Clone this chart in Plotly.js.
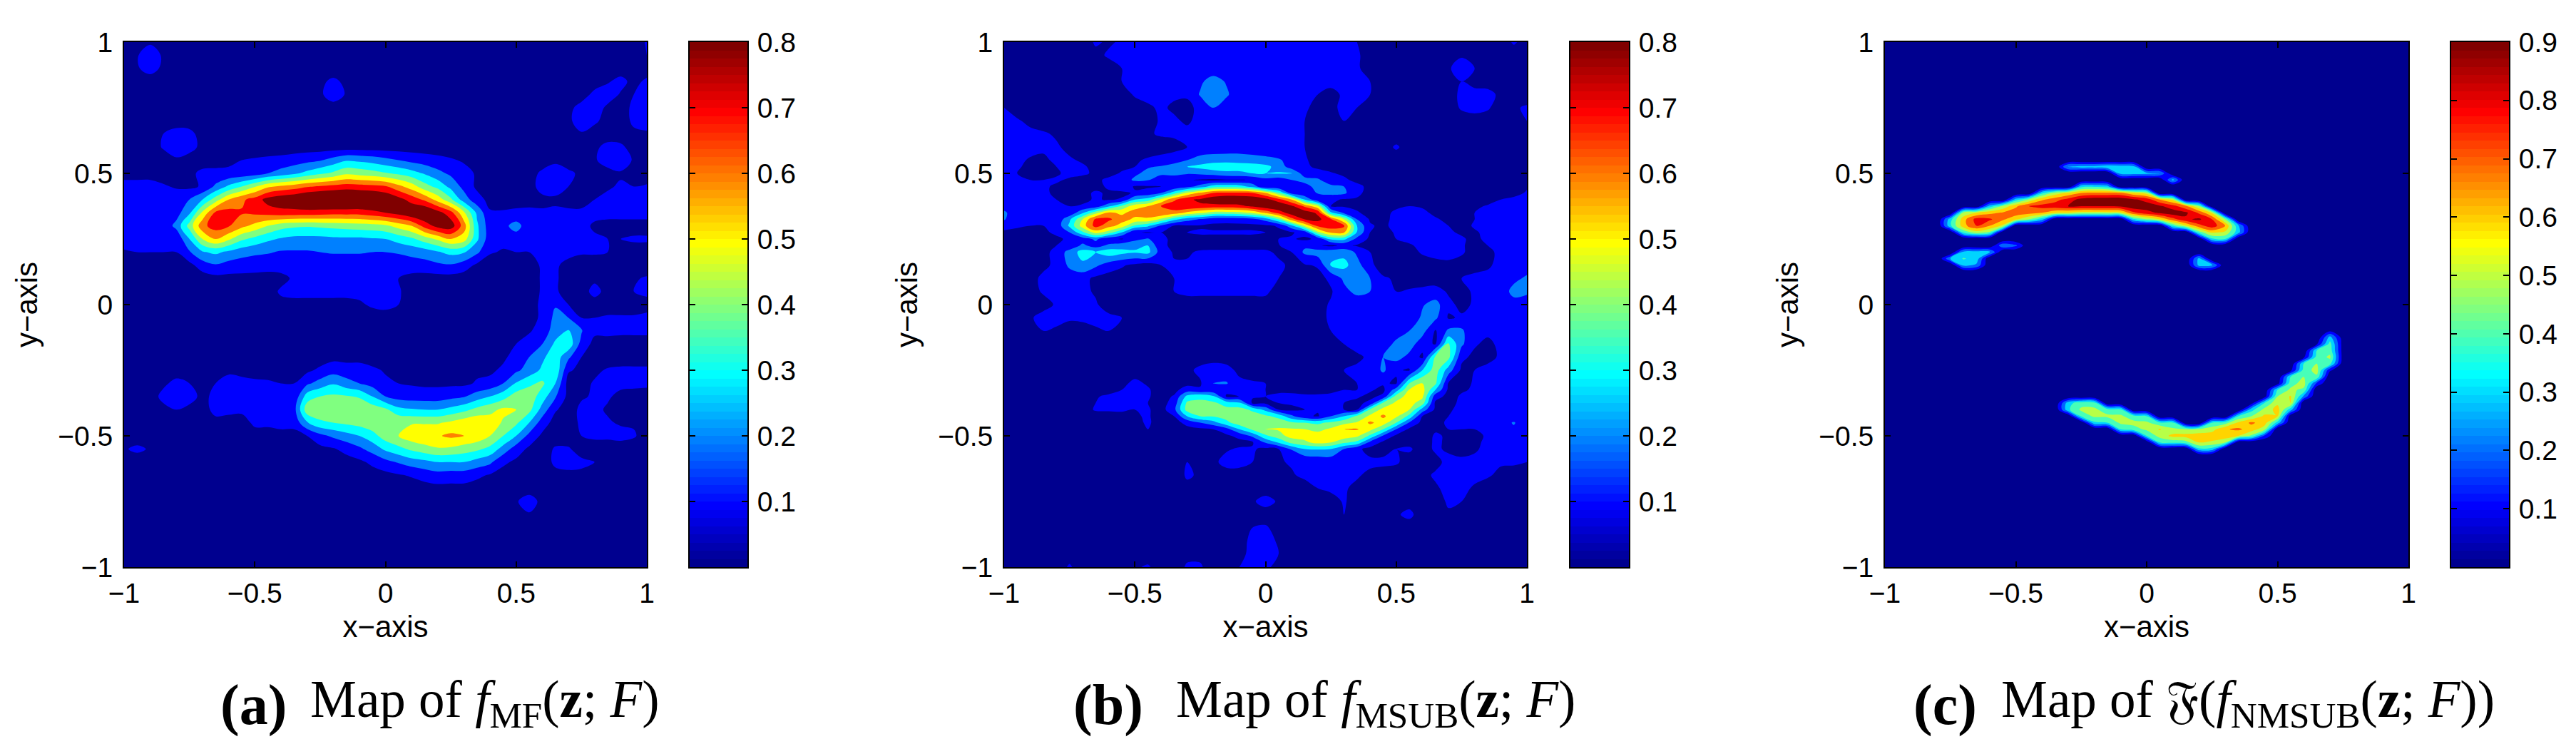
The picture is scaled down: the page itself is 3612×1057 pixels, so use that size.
<!DOCTYPE html>
<html>
<head>
<meta charset="utf-8">
<script src="https://cdn.plot.ly/plotly-3.0.1.min.js"></script>
<style>body{margin:0;background:#fff}</style>
</head>
<body>
<div id="chart"></div>
<script>
const xGrid = [-1,-.95,-.9,-.85,-.8,-.75,-.7,-.65,-.6,-.55,-.5,-.45,-.4,-.35,-.3,-.25,-.2,-.15,-.1,-.05,0,.05,.1,.15,.2,.25,.3,.35,.4,.45,.5,.55,.6,.65,.7,.75,.8,.85,.9,.95,1];
const yGridA = [1,.95,.9,.85,.8,.75,.7,.65,.6,.55,.5,.45,.4,.35,.3,.25,.2,.15,.1,.05,0,-.05,-.1,-.15,-.2,-.25,-.3,-.35,-.4,-.45,-.5,-.55,-.6,-.65,-.7,-.75,-.8,-.85,-.9,-.95,-1];
const yGridB = [1,.95,.9,.85,.8,.75,.7,.65,.6,.55,.525,.5,.475,.45,.425,.4,.375,.35,.325,.3,.275,.25,.225,.2,.15,.1,.05,0,-.05,-.1,-.15,-.2,-.25,-.3,-.325,-.35,-.375,-.4,-.425,-.45,-.475,-.5,-.525,-.55,-.6,-.65,-.7,-.75,-.8,-.85,-.9,-.95,-1];
const yGridC = [1,.575,.55,.525,.5,.475,.45,.425,.4,.375,.35,.325,.3,.275,.25,.225,.2,.175,.15,.125,-.1,-.125,-.15,-.175,-.2,-.225,-.25,-.275,-.3,-.325,-.35,-.375,-.4,-.425,-.45,-.475,-.5,-.525,-.55,-.575,-1];

// values in hundredths, top row first
const mapA = [
[5,5,8,5,5,5,5,5,5,5,5,5,5,5,5,5,5,5,5,5,5,5,5,5,5,5,5,5,5,5,5,5,5,5,5,5,5,5,5,5,11],
[5,9,18,8,5,5,5,5,5,5,5,5,5,5,5,5,5,5,5,5,5,5,5,5,5,5,5,5,5,5,5,5,5,5,5,5,5,5,5,5,10],
[5,9,14,8,5,5,5,5,5,5,5,5,5,5,5,5,5,5,5,5,5,5,5,5,5,5,5,5,5,5,5,5,5,5,5,5,5,5,5,5,5],
[5,5,5,5,5,5,5,5,5,5,5,5,5,5,5,8,12,8,5,5,5,5,5,5,5,5,5,5,5,5,5,5,5,5,5,5,5,9,13,7,12],
[5,5,5,5,5,5,5,5,5,5,5,5,5,5,5,8,16,9,5,5,5,5,5,5,5,5,5,5,5,5,5,5,5,5,5,5,13,15,9,10,14],
[5,5,5,5,5,5,5,5,5,5,5,5,5,5,5,5,5,5,5,5,5,5,5,5,5,5,5,5,5,5,5,5,5,5,7,14,15,8,6,12,14],
[5,5,5,5,5,5,5,5,5,5,5,5,5,5,5,5,5,5,5,5,5,5,5,5,5,5,5,5,5,5,5,5,5,5,8,15,12,6,5,12,13],
[5,5,5,10,14,13,6,5,5,5,5,5,5,5,5,5,5,5,5,5,5,5,5,5,5,5,5,5,5,5,5,5,5,5,5,9,5,5,5,8,9],
[5,5,5,11,17,14,7,5,5,5,5,5,5,5,5,5,5,5,5,5,5,5,5,5,5,5,5,5,5,5,5,5,5,5,5,5,8,13,12,6,5],
[5,5,5,5,8,5,8,7,8,10,11,12,13,15,17,19,24,29,28,26,23,20,17,15,13,11,9,6,5,5,5,5,5,8,5,5,9,14,15,9,5],
[9,8,7,6,6,9,11,12,12,13,15,20,24,28,33,38,42,48,46,44,41,38,34,29,23,18,13,9,6,5,5,6,12,15,12,8,6,7,9,6,5],
[11,12,13,11,9,8,11,22,32,40,49,58,62,65,69,71,73,75,74,73,71,63,55,44,37,27,17,8,6,5,6,7,13,15,10,6,9,9,11,10,11],
[12,14,14,13,15,20,30,45,60,68,74,84,88,90,94,96,97,97,96,94,90,84,76,68,56,42,25,14,7,6,6,7,8,8,6,8,10,12,13,13,14],
[13,14,15,14,16,28,52,72,74,71,72,74,76,76,76,75,74,74,74,77,80,84,90,92,84,74,52,28,11,11,12,12,11,12,12,11,12,13,13,13,13],
[15,14,14,13,23,44,67,75,71,63,57,50,44,42,41,42,43,44,45,46,48,54,60,74,84,86,65,32,14,17,24,14,13,13,12,12,9,7,7,7,7],
[14,14,13,12,12,30,50,60,52,42,37,32,29,27,27,27,28,28,28,29,30,34,38,45,52,60,55,32,14,13,15,13,12,12,12,12,11,10,10,11,11],
[9,10,10,10,10,19,29,32,28,24,22,21,19,19,19,20,21,21,21,20,20,21,23,25,29,33,31,22,11,9,10,10,11,12,12,11,11,10,8,7,7],
[6,6,6,6,6,7,15,19,16,15,14,13,13,12,12,13,13,13,13,13,14,14,15,16,18,19,15,8,5,5,5,7,11,11,8,6,6,6,6,6,5],
[5,5,5,5,5,5,5,7,7,7,7,7,8,11,12,12,13,13,13,12,12,10,7,6,6,6,5,5,5,5,5,6,11,11,7,6,8,5,6,9,11],
[5,5,5,5,5,5,5,5,5,5,5,7,11,12,12,12,12,12,12,12,11,11,6,5,5,5,5,5,5,5,5,6,11,11,7,6,13,7,6,10,12],
[5,5,5,5,5,5,5,5,5,5,5,5,8,8,8,8,8,8,9,11,12,10,5,5,5,5,5,5,5,5,5,6,12,19,10,6,6,6,6,6,7],
[5,5,5,5,5,5,5,5,5,5,5,5,5,5,5,5,5,5,5,7,7,6,5,5,5,5,5,5,5,5,5,8,11,23,20,10,10,11,11,11,12],
[5,5,5,5,5,5,5,5,5,5,5,5,5,5,5,5,5,5,5,5,5,5,5,5,5,5,5,5,5,5,7,9,14,25,31,21,12,12,12,12,12],
[5,5,5,5,5,5,5,5,5,5,5,5,5,5,5,5,5,5,5,5,5,5,5,5,5,5,5,5,5,7,10,14,20,32,37,16,7,7,6,6,6],
[5,5,5,5,5,5,5,5,5,5,5,5,5,5,5,5,7,7,7,5,5,5,5,5,5,5,5,5,6,8,14,20,28,36,22,10,5,5,5,5,5],
[5,5,5,5,5,5,5,7,9,8,8,7,6,6,8,12,16,14,14,12,9,6,5,5,5,5,5,8,8,12,18,24,32,38,11,8,8,11,12,12,12],
[5,5,5,8,13,10,7,10,12,12,11,11,10,10,18,24,29,24,20,16,12,10,9,8,8,8,8,11,13,20,31,38,42,30,6,7,11,12,12,12,11],
[5,5,5,13,15,13,8,12,13,13,12,12,11,12,35,40,42,41,39,30,20,16,15,15,15,17,19,25,30,36,45,46,35,21,7,9,11,11,8,7,8],
[5,5,5,7,10,8,6,13,12,11,12,12,13,16,46,47,46,47,47,46,42,33,31,30,30,33,37,43,47,52,50,43,26,11,6,12,12,9,6,6,5],
[5,5,5,5,5,5,5,7,7,8,11,11,12,13,29,38,40,42,44,47,49,49,49,49,49,52,56,58,55,49,42,30,15,6,5,12,13,11,9,9,6],
[5,5,5,5,5,5,5,5,5,5,8,8,8,7,10,17,22,26,30,36,45,50,56,58,59,62,60,57,50,40,30,17,8,6,5,10,12,12,13,11,6],
[9,12,9,5,5,5,5,5,5,5,5,5,5,5,5,7,9,13,18,24,32,37,42,46,49,48,45,42,37,26,15,8,6,11,11,6,5,5,5,5,5],
[5,5,5,5,5,5,5,5,5,5,5,5,5,5,5,5,5,6,8,12,17,21,25,27,30,30,30,26,22,12,8,5,5,12,13,12,10,6,5,5,5],
[5,5,5,5,5,5,5,5,5,5,5,5,5,5,5,5,5,5,5,6,7,9,11,14,16,15,15,12,9,6,5,5,5,7,8,8,5,5,5,5,5],
[5,5,5,5,5,5,5,5,5,5,5,5,5,5,5,5,5,5,5,5,5,5,5,6,7,7,7,6,5,5,5,5,5,5,5,5,5,5,5,5,5],
[5,5,5,5,5,5,5,5,5,5,5,5,5,5,5,5,5,5,5,5,5,5,5,5,5,5,5,5,5,5,9,15,7,5,5,5,5,5,5,5,5],
[5,5,5,5,5,5,5,5,5,5,5,5,5,5,5,5,5,5,5,5,5,5,5,5,5,5,5,5,5,5,5,9,5,5,5,5,5,5,5,5,5],
[5,5,5,5,5,5,5,5,5,5,5,5,5,5,5,5,5,5,5,5,5,5,5,5,5,5,5,5,5,5,5,5,5,5,5,5,5,5,5,5,5],
[5,5,5,5,5,5,5,5,5,5,5,5,5,5,5,5,5,5,5,5,5,5,5,5,5,5,5,5,5,5,5,5,5,5,5,5,5,5,5,5,5],
[5,5,5,5,5,5,5,5,5,5,5,5,5,5,5,5,5,5,5,5,5,5,5,5,5,5,5,5,5,5,5,5,5,5,5,5,5,5,5,5,5],
[5,5,5,5,5,5,5,5,5,5,5,5,5,5,5,5,5,5,5,5,5,5,5,5,5,5,5,5,5,5,5,5,5,5,5,5,5,5,5,5,5]
];

const mapB = [
[6,6,6,6,6,6,6,11,9,11,12,12,12,12,12,12,12,12,12,12,12,12,12,12,12,12,11,10,8,6,6,6,6,6,6,6,6,6,6,11,7],
[6,6,6,6,6,6,6,8,11,11,13,13,13,13,13,13,13,13,13,13,13,13,13,13,13,13,13,11,7,6,6,6,6,6,8,9,7,6,6,6,6],
[6,6,6,6,6,6,6,6,7,10,13,13,13,13,13,13,13,13,13,13,13,13,13,13,13,13,13,11,7,6,6,6,6,6,9,14,10,6,6,6,6],
[6,6,6,6,6,6,6,6,6,10,12,12,12,12,12,18,25,19,12,12,12,12,12,12,12,12,12,12,10,6,6,6,6,6,6,10,6,6,6,6,6],
[6,6,6,6,6,6,6,6,6,6,11,12,12,11,11,21,30,22,12,12,12,12,12,12,10,8,11,11,10,6,6,6,6,6,6,12,14,13,8,6,6],
[10,6,6,6,6,6,6,6,6,6,6,9,11,9,8,12,20,13,12,12,12,12,12,11,8,9,11,10,7,6,6,6,6,6,6,11,13,11,6,9,11],
[12,11,8,6,6,6,6,6,6,6,6,7,11,11,9,12,13,12,12,12,12,12,11,10,7,7,10,8,6,6,6,6,6,6,6,6,6,6,6,7,10],
[13,13,12,11,9,7,6,6,6,6,6,9,11,12,12,12,12,12,12,12,12,12,11,10,7,6,6,6,6,6,6,6,6,6,6,6,6,6,6,6,6],
[13,13,13,12,11,8,6,6,6,6,6,6,6,6,10,13,13,13,13,13,13,13,13,10,6,6,6,6,6,7,11,7,6,6,6,6,6,6,6,6,6],
[13,12,9,8,12,11,9,7,7,8,9,11,13,17,20,24,26,27,27,25,23,21,17,11,7,6,6,6,6,6,6,6,6,6,6,6,6,6,6,6,6],
[13,11,8,6,10,12,11,8,7,8,10,19,21,23,30,33,36,36,34,35,33,26,15,11,9,6,6,6,6,6,6,6,6,6,6,6,6,6,6,6,6],
[13,10,7,6,9,12,11,9,7,11,18,23,23,24,21,22,24,27,28,30,30,31,31,14,12,11,8,6,6,6,6,6,6,6,6,6,6,6,6,6,6],
[13,12,10,10,11,9,8,8,12,14,22,21,12,12,11,9,8,9,9,11,17,14,20,24,22,12,12,7,6,6,6,6,6,6,6,6,6,6,6,6,6],
[13,13,12,11,9,8,8,8,11,16,9,9,10,11,16,24,35,36,35,26,10,10,11,16,24,23,20,13,7,6,6,6,6,6,6,6,6,6,6,6,9],
[14,13,12,11,9,8,8,11,9,8,11,13,20,36,52,62,70,72,72,70,60,42,15,11,21,23,22,12,7,6,6,6,6,6,6,6,6,6,6,7,11],
[14,13,12,11,10,8,8,11,9,11,30,35,52,68,78,82,88,91,90,89,84,74,60,30,11,12,9,9,6,6,6,6,6,6,6,6,6,6,10,12,12],
[15,13,12,12,11,10,11,14,28,42,56,60,70,76,79,78,76,76,77,82,88,90,82,68,52,10,9,8,6,6,8,10,9,6,6,6,8,11,12,12,12],
[22,13,12,12,12,12,28,46,62,58,64,66,70,66,58,52,46,46,47,52,62,74,86,86,78,32,18,11,7,7,12,13,12,8,6,6,10,12,12,12,12],
[21,12,11,11,12,28,50,72,72,64,58,58,48,33,24,19,14,13,14,16,24,40,66,80,83,72,50,20,9,7,13,14,13,11,8,6,10,12,12,12,12],
[12,11,10,10,13,32,55,74,64,56,38,32,18,9,9,9,8,8,8,8,8,11,27,52,72,76,72,30,11,8,13,14,14,13,10,7,11,12,12,12,12],
[9,8,8,9,11,20,38,54,45,30,11,9,10,10,10,11,11,11,11,11,10,8,9,14,47,62,61,29,10,7,11,13,14,13,11,9,9,12,12,12,12],
[8,7,7,8,9,11,15,22,13,9,17,21,11,9,8,8,8,8,8,8,9,10,11,8,12,32,33,17,8,6,10,12,13,13,12,11,8,12,12,12,12],
[6,6,6,6,10,13,22,16,22,26,28,30,12,8,7,7,8,8,8,8,8,9,19,18,11,8,12,9,6,6,7,9,12,13,13,11,7,10,12,12,13],
[6,6,6,7,13,24,34,30,36,33,31,33,15,9,9,11,11,11,11,11,11,9,10,22,25,26,27,18,10,6,6,7,11,13,13,11,7,8,12,12,13],
[6,6,6,8,12,22,28,22,15,11,8,6,10,11,11,11,11,11,11,11,11,11,9,9,11,31,33,24,12,6,6,6,6,7,8,7,7,9,12,13,14],
[6,6,7,12,13,14,13,8,6,6,6,6,8,10,11,12,12,12,12,12,11,10,6,6,7,12,22,26,20,11,9,6,6,6,7,10,12,12,13,17,22],
[6,6,7,11,13,13,12,9,6,6,6,6,9,10,11,11,11,11,11,11,11,8,6,6,6,9,17,23,20,12,10,11,12,13,9,8,11,12,13,24,22],
[6,6,6,7,11,12,12,11,6,6,6,6,8,8,8,8,8,8,8,8,8,8,6,6,7,11,12,13,13,12,12,13,19,24,12,8,11,12,13,15,14],
[6,6,9,13,12,11,11,12,12,10,6,6,6,6,6,6,6,6,6,6,6,6,6,6,8,11,12,12,12,12,12,12,22,22,9,11,12,12,12,12,12],
[6,6,8,10,9,7,8,9,10,10,6,6,6,6,6,6,6,6,6,6,6,6,6,6,6,10,12,12,12,12,12,20,24,9,22,22,11,12,12,12,12],
[6,6,6,6,6,6,6,6,6,6,6,6,6,6,6,6,6,6,6,6,6,6,6,6,6,8,10,12,12,11,24,25,14,9,41,22,11,8,12,12,12],
[6,6,6,6,6,6,6,6,6,6,6,6,6,6,6,6,6,6,6,6,6,6,6,6,6,6,6,9,11,20,24,17,8,42,43,12,8,8,11,12,12],
[6,6,6,6,6,6,6,6,6,6,6,6,6,6,8,12,15,13,8,6,6,6,6,6,6,6,10,11,12,22,11,9,30,45,25,8,10,12,12,12,12],
[6,6,6,6,6,6,6,6,6,8,12,9,6,6,7,9,20,21,12,11,10,8,6,6,7,8,10,10,11,11,9,40,50,42,9,7,11,12,12,12,12],
[6,6,6,6,6,6,6,6,6,10,12,11,6,7,15,11,12,12,13,11,10,9,8,8,8,9,10,10,11,8,25,51,54,30,8,9,11,12,12,12,12],
[6,6,6,6,6,6,6,9,12,12,12,11,6,11,33,38,32,9,10,11,10,11,12,11,11,11,11,11,8,12,45,54,52,14,7,11,12,12,12,12,12],
[6,6,6,6,6,6,6,10,12,11,11,10,6,14,42,42,42,36,32,8,8,10,11,11,11,11,10,8,12,42,52,54,45,8,7,12,12,12,12,12,12],
[6,6,6,6,6,6,6,11,11,11,10,11,6,17,44,44,44,43,44,38,27,10,8,10,11,11,10,9,42,53,55,50,26,8,9,12,12,12,12,12,12],
[6,6,6,6,6,6,6,6,7,8,9,11,6,10,30,40,41,44,46,45,42,37,22,12,9,20,30,42,52,62,52,37,10,7,10,12,12,12,12,12,12],
[6,6,6,6,6,6,6,6,6,6,8,11,7,6,13,20,26,37,46,49,47,46,42,40,38,42,47,51,62,55,40,19,7,8,11,12,12,12,15,21,12],
[6,6,6,6,6,6,6,6,6,6,6,10,6,6,7,8,10,16,30,42,50,51,51,50,47,52,60,61,53,40,20,8,6,9,10,10,10,12,15,18,12],
[6,6,6,6,6,6,6,6,6,6,6,6,6,6,6,6,7,8,13,22,38,46,54,54,55,60,56,52,38,19,8,6,6,11,9,7,8,11,14,16,12],
[6,6,6,6,6,6,6,6,6,6,6,6,6,6,6,6,6,6,7,9,21,31,43,48,53,50,42,37,17,8,7,8,7,11,9,7,8,12,12,12,12],
[6,6,6,6,6,6,6,6,6,6,6,6,6,6,6,6,6,9,11,11,8,10,21,30,31,30,20,12,7,7,10,11,7,11,9,7,9,12,12,12,12],
[6,6,6,6,6,6,6,6,6,6,6,6,6,6,10,7,8,13,13,10,6,9,11,11,12,13,13,13,12,12,11,7,6,8,12,12,12,12,11,11,10],
[6,6,6,6,6,6,6,6,6,6,6,6,6,6,11,9,6,6,6,6,6,6,9,12,13,13,12,11,8,6,6,6,8,11,12,12,12,11,8,7,6],
[6,6,6,6,6,6,6,6,6,6,6,6,6,6,8,6,6,6,6,6,6,6,6,6,10,12,11,8,6,6,6,6,6,9,12,12,9,6,6,6,6],
[6,6,6,6,6,6,6,6,6,6,6,6,6,6,6,6,6,6,6,9,13,9,6,6,6,6,11,6,6,6,6,7,6,7,11,10,6,6,6,6,8],
[6,6,6,6,6,6,6,6,6,6,6,6,6,6,6,6,6,6,6,6,6,6,6,6,6,6,10,6,6,6,9,12,6,6,9,6,6,6,6,6,10],
[6,6,6,6,6,6,6,6,6,6,6,6,6,6,6,6,6,6,6,10,11,7,6,6,6,6,6,6,6,6,6,6,6,6,6,6,6,6,6,6,6],
[6,6,6,6,6,6,6,6,6,6,6,6,6,6,6,6,6,6,7,12,13,9,6,6,6,6,6,6,6,6,6,6,6,6,6,6,6,6,6,6,6],
[6,6,6,6,6,7,6,6,6,6,6,6,6,6,8,8,6,6,7,13,13,10,6,6,6,6,6,6,6,6,6,6,6,6,6,6,6,6,6,6,6],
[6,6,6,6,6,11,6,6,6,6,9,11,6,6,11,11,6,6,10,12,12,7,6,6,6,6,6,6,6,6,6,6,6,6,6,6,6,6,6,6,6]
];

// panel c is empty outside the two arcs: first column index, then that row's values
const mapCRows = [
[],[],[],
[14,32,34,34,38,36,34],
[18,34,34,33,30],
[22,33],
[15,36,38,34],
[12,38,54,62,70,72,72,72,62,56],
[10,35,52,68,76,84,94,97,97,97,92,86,70,58],
[8,34,52,68,80,84,86,90,90,90,90,92,97,96,92,84,72,50],
[6,52,60,67,71,76,74,70,62,60,56,56,57,58,78,86,92,96,92,78,58],
[5,36,66,84,82,72,62,50,34,0,0,0,0,0,0,38,50,60,76,88,92,80,50],
[5,38,66,80,70,58,0,0,0,0,0,0,0,0,0,0,0,0,40,58,76,86,70,32],
[6,42,55,48,0,0,0,0,0,0,0,0,0,0,0,0,0,0,0,45,62,58,34],
[25,38,40],
[9,28,22],
[6,33,34,33],
[5,30,41,36,0,0,0,0,0,0,0,0,0,0,0,0,0,0,0,0,33],
[6,33,28,0,0,0,0,0,0,0,0,0,0,0,0,0,0,0,0,33,32],
[],
[34,8],
[34,34,4],
[33,8,44,5],
[33,40,46,5],
[32,7,44,52,5],
[32,40,50,44,3],
[31,6,44,54,12],
[31,40,50,48],
[30,5,46,54,18],
[30,40,52,48],
[29,4,50,61,28],
[14,36,46,45,0,0,0,0,0,0,0,0,0,0,0,5,40,58,60],
[14,38,52,52,45,42,0,0,0,0,0,0,0,0,0,36,53,64,34],
[15,42,52,52,52,44,40,0,0,0,0,0,0,40,50,62,60,3],
[16,38,40,52,53,52,42,42,0,0,40,45,62,72,65,36],
[18,40,46,52,61,52,50,51,56,69,72,65,54],
[20,40,54,63,64,66,66,67,60,48,18],
[21,40,43,46,60,58,50],
[24,38,36],
[],[]
];

const bandColorsAB = ['rgb(0,0,143)','rgb(0,0,255)','rgb(0,128,255)','rgb(0,255,255)','rgb(128,255,128)','rgb(255,255,0)','rgb(255,128,0)','rgb(255,0,0)','rgb(128,0,0)'];
const bandColorsC = ['rgb(0,0,143)','rgb(0,0,255)','rgb(0,99,255)','rgb(0,212,255)','rgb(71,255,184)','rgb(184,255,71)','rgb(255,212,0)','rgb(255,99,0)','rgb(241,0,0)','rgb(128,0,0)'];
const jetAnchors = [[0,'rgb(0,0,143)'],[0.111,'rgb(0,0,255)'],[0.365,'rgb(0,255,255)'],[0.619,'rgb(255,255,0)'],[0.873,'rgb(255,0,0)'],[1,'rgb(128,0,0)']];
const cbSteps = [0,1,2,3,4,5,6,7,8,9,10,11,12,13,14,15,16,17,18,19,20,21,22,23,24,25,26,27,28,29,30,31,32,33,34,35,36,37,38,39,40,41,42,43,44,45,46,47,48,49,50,51,52,53,54,55,56,57,58,59,60,61,62,63];
const cbTicksAB = [0.1,0.2,0.3,0.4,0.5,0.6,0.7,0.8];
const cbTicksC = [0.1,0.2,0.3,0.4,0.5,0.6,0.7,0.8,0.9];
const axisTicks = [-1,-0.5,0,0.5,1];

const W = 3612, H = 1057;
const plotBoxes = [[174,907],[1408,2141],[2643,3377]];
const cbBoxes = [[967,1048],[2202,2284],[3437,3518]];
const TOP = 59, BOTTOM = 795;
const FONT = 'Liberation Sans, Helvetica, Arial, sans-serif';
const SERIF = 'Liberation Serif, Times New Roman, serif';

function stepScale(cols) {
  return cols.map((c, i) => [i / (cols.length - 1), c]);
}
function expandRow(r) {
  const out = xGrid.map(() => 0);
  r.slice(1).forEach((v, k) => { out[r[0] + k] = v; });
  return out;
}
const mapC = mapCRows.map(expandRow);

const traces = [];
const layout = {
  width: W, height: H, margin: {l: 0, r: 0, t: 0, b: 0},
  paper_bgcolor: '#fff', plot_bgcolor: '#fff',
  font: {family: FONT, size: 39, color: '#000'},
  showlegend: false, annotations: []
};

function addPanel(n, ys, z, colors, cbMax, cbTicks) {
  const sfx = n === 0 ? '' : String(2 * n + 1);
  const sfx2 = String(2 * n + 2);
  const yDom = [1 - BOTTOM / H, 1 - TOP / H];
  traces.push({
    type: 'contour', x: xGrid, y: ys.slice().reverse(), z: z.slice().reverse().map(r => r.map(v => v / 100)),
    xaxis: 'x' + sfx, yaxis: 'y' + sfx,
    autocontour: false, contours: {start: 0.1, end: 0.1 * (colors.length - 1), size: 0.1, coloring: 'fill', showlines: false},
    line: {width: 0}, colorscale: stepScale(colors), showscale: false, hoverinfo: 'skip'
  });
  traces.push({
    type: 'heatmap', x: [0, 1], y0: cbMax / 128, dy: cbMax / 64, z: cbSteps.map(v => [v, v]),
    xaxis: 'x' + sfx2, yaxis: 'y' + sfx2,
    zmin: 0, zmax: 63, colorscale: jetAnchors, showscale: false, hoverinfo: 'skip', zsmooth: false
  });
  const box = plotBoxes[n], cb = cbBoxes[n];
  const line = {showline: true, linecolor: '#000', linewidth: 2, mirror: 'ticks', ticks: 'inside', ticklen: 8, tickwidth: 2, tickcolor: '#000', zeroline: false, showgrid: false};
  layout['xaxis' + sfx] = Object.assign({}, line, {
    anchor: 'y' + sfx, domain: [box[0] / W, box[1] / W], range: [-1, 1], tickvals: axisTicks,
    ticktext: axisTicks.map(v => String(v).replace('-', '\u2212')), ticklabelstandoff: 1,
    title: {text: 'x\u2212axis', standoff: 12, font: {size: 42}}
  });
  layout['yaxis' + sfx] = Object.assign({}, line, {
    anchor: 'x' + sfx, domain: yDom, range: [-1, 1], tickvals: axisTicks,
    ticktext: axisTicks.map(v => String(v).replace('-', '\u2212')), ticklabelstandoff: 6,
    title: {text: 'y\u2212axis', standoff: 16, font: {size: 42}}
  });
  layout['xaxis' + sfx2] = {
    anchor: 'y' + sfx2, domain: [cb[0] / W, cb[1] / W], range: [0, 1], showticklabels: false, ticks: '',
    showline: true, linecolor: '#000', linewidth: 2, mirror: true, showgrid: false, zeroline: false
  };
  layout['yaxis' + sfx2] = Object.assign({}, line, {
    anchor: 'x' + sfx2, domain: yDom, range: [0, cbMax], side: 'right', tickvals: cbTicks,
    ticktext: cbTicks.map(v => v.toFixed(1)), ticklabelstandoff: 4, mirror: 'ticks', layer: 'above traces'
  });
}

addPanel(0, yGridA, mapA, bandColorsAB, 0.8, cbTicksAB);
addPanel(1, yGridB, mapB, bandColorsAB, 0.8, cbTicksAB);
addPanel(2, yGridC, mapC, bandColorsC, 0.9, cbTicksC);

function caption(xBold, bold, xText, text) {
  layout.annotations.push({xref: 'paper', yref: 'paper', x: xBold / W, y: 1 - 1005 / H, xanchor: 'left', yanchor: 'bottom', yshift: -30,
    text: '<b>' + bold + '</b>', showarrow: false, font: {family: SERIF, size: 80}});
  layout.annotations.push({xref: 'paper', yref: 'paper', x: xText / W, y: 1 - 1005 / H, xanchor: 'left', yanchor: 'bottom', yshift: -28,
    text: text, showarrow: false, font: {family: SERIF, size: 73}});
}
caption(307, '(a)', 433, 'Map of <i>f</i><sub>MF</sub>(<b>z</b>; <i>F</i>)');
caption(1503, '(b)', 1647, 'Map of <i>f</i><sub>MSUB</sub>(<b>z</b>; <i>F</i>)');
caption(2681, '(c)', 2804, 'Map of \uD835\uDD09(<i>f</i><sub>NMSUB</sub>(<b>z</b>; <i>F</i>))');

Plotly.newPlot('chart', traces, layout, {staticPlot: true, displayModeBar: false});
</script>
</body>
</html>
